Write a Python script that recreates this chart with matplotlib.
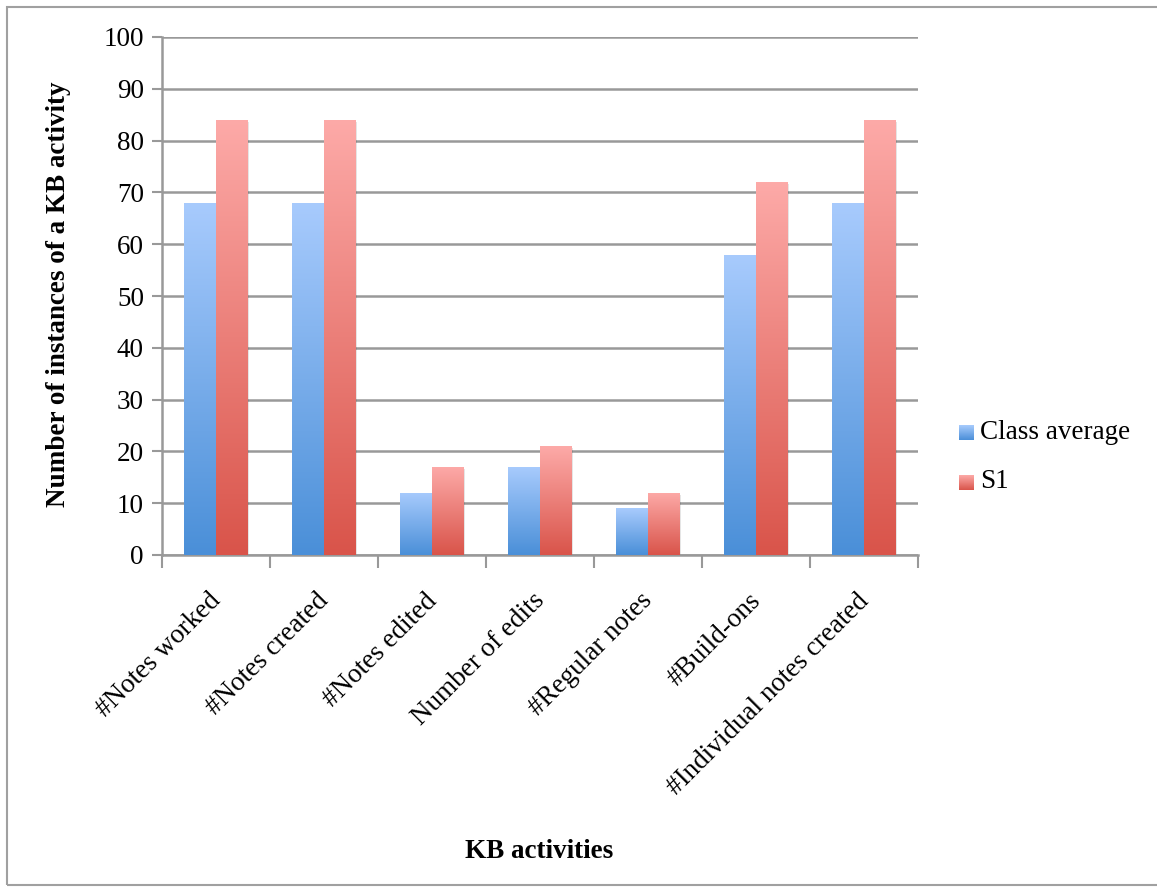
import numpy as np
import matplotlib
matplotlib.use("Agg")
import matplotlib.pyplot as plt
import matplotlib.transforms as mtransforms
from matplotlib.patches import Rectangle
from matplotlib.colors import LinearSegmentedColormap

categories = ["#Notes worked", "#Notes created", "#Notes edited", "Number of edits",
              "#Regular notes", "#Build-ons", "#Individual notes created"]
class_average = [68, 68, 12, 17, 9, 58, 68]
s1 = [84, 84, 17, 21, 12, 72, 84]
series_names = ["Class average", "S1"]
yticks = [0, 10, 20, 30, 40, 50, 60, 70, 80, 90, 100]

plt.rcParams['font.family'] = ['Liberation Serif', 'DejaVu Serif']
FS = 19.5

W, H = 1157, 892
fig = plt.figure(figsize=(W / 100, H / 100), dpi=100)
ax = fig.add_axes([162 / W, 1 - 555 / H, (918 - 162) / W, (555 - 37) / H])

blue_cmap = LinearSegmentedColormap.from_list("b", ["#4A8FD8", "#A8CBFD"])
red_cmap = LinearSegmentedColormap.from_list("r", ["#D9544A", "#FDAAA8"])
grad = np.linspace(0, 1, 256).reshape(-1, 1)

x = np.arange(len(categories))
bw = 0.295
ax.set_xlim(-0.5, len(categories) - 0.5)
ax.set_ylim(0, 100)

for vals, off, cmap in [(class_average, -bw / 2, blue_cmap), (s1, bw / 2, red_cmap)]:
    bars = ax.bar(x + off, vals, width=bw, color="none", edgecolor="none", zorder=3)
    for b in bars:
        bx, by = b.get_x(), b.get_y()
        bwid, bh = b.get_width(), b.get_height()
        sh = Rectangle((bx + 0.012, by), bwid, bh - 0.4, facecolor="#000000",
                       alpha=0.10, edgecolor="none", zorder=2.5)
        ax.add_patch(sh)
        im = ax.imshow(grad, cmap=cmap, origin="lower", aspect="auto",
                       extent=[bx, bx + bwid, by, by + bh], zorder=3)
        im.set_clip_path(b)

ax.set_xlim(-0.5, len(categories) - 0.5)
ax.set_ylim(0, 100)

ax.set_yticks(yticks)
ax.set_yticklabels([str(t) for t in yticks], fontsize=FS)
ax.yaxis.grid(True, color="#999999", linewidth=1.8, zorder=1)
ax.set_axisbelow(True)
ax.tick_params(axis="y", length=7, width=1.5, color="#999999", pad=6, direction="out")

ax.set_xticks(np.arange(-0.5, len(categories) + 0.5, 1.0))
ax.set_xticklabels([])
ax.set_xticks(x, minor=True)
ax.set_xticklabels(categories, minor=True, rotation=45, ha="right", va="top",
                   rotation_mode="anchor", fontsize=FS)
ax.tick_params(axis="x", which="major", length=9, width=1.5, color="#999999", direction="out")
ax.tick_params(axis="x", which="minor", length=0, pad=24)
shift = mtransforms.ScaledTranslation(-8 / 100, 0, fig.dpi_scale_trans)
for lbl in ax.get_xticklabels(minor=True):
    lbl.set_transform(lbl.get_transform() + shift)

for s in ["top", "right"]:
    ax.spines[s].set_visible(False)
for s in ["left", "bottom"]:
    ax.spines[s].set_color("#999999")
    ax.spines[s].set_linewidth(1.8)

fig.text(59 / W, 1 - 294 / H, "Number of instances of a KB activity", rotation=90,
         ha="center", va="center", fontsize=FS, fontweight="bold")
fig.text(539 / W, 1 - 851 / H, "KB activities", ha="center", va="center",
         fontsize=FS, fontweight="bold")

for i, (name, cmap) in enumerate(zip(series_names, [blue_cmap, red_cmap])):
    ly = 432 + i * 50
    lax = fig.add_axes([959 / W, 1 - (ly + 8) / H, 15 / W, 15 / H])
    lax.imshow(grad, cmap=cmap, origin="lower", aspect="auto")
    lax.set_axis_off()
    fig.text(980 / W, 1 - ly / H, name, ha="left", va="center", fontsize=FS)

fig.patches.append(Rectangle((7 / W, 7 / H), 1.2, (885 - 7) / H, transform=fig.transFigure,
                             facecolor="none", edgecolor="#A0A0A0", linewidth=1.5))

fig.savefig("out.png", dpi=100)
